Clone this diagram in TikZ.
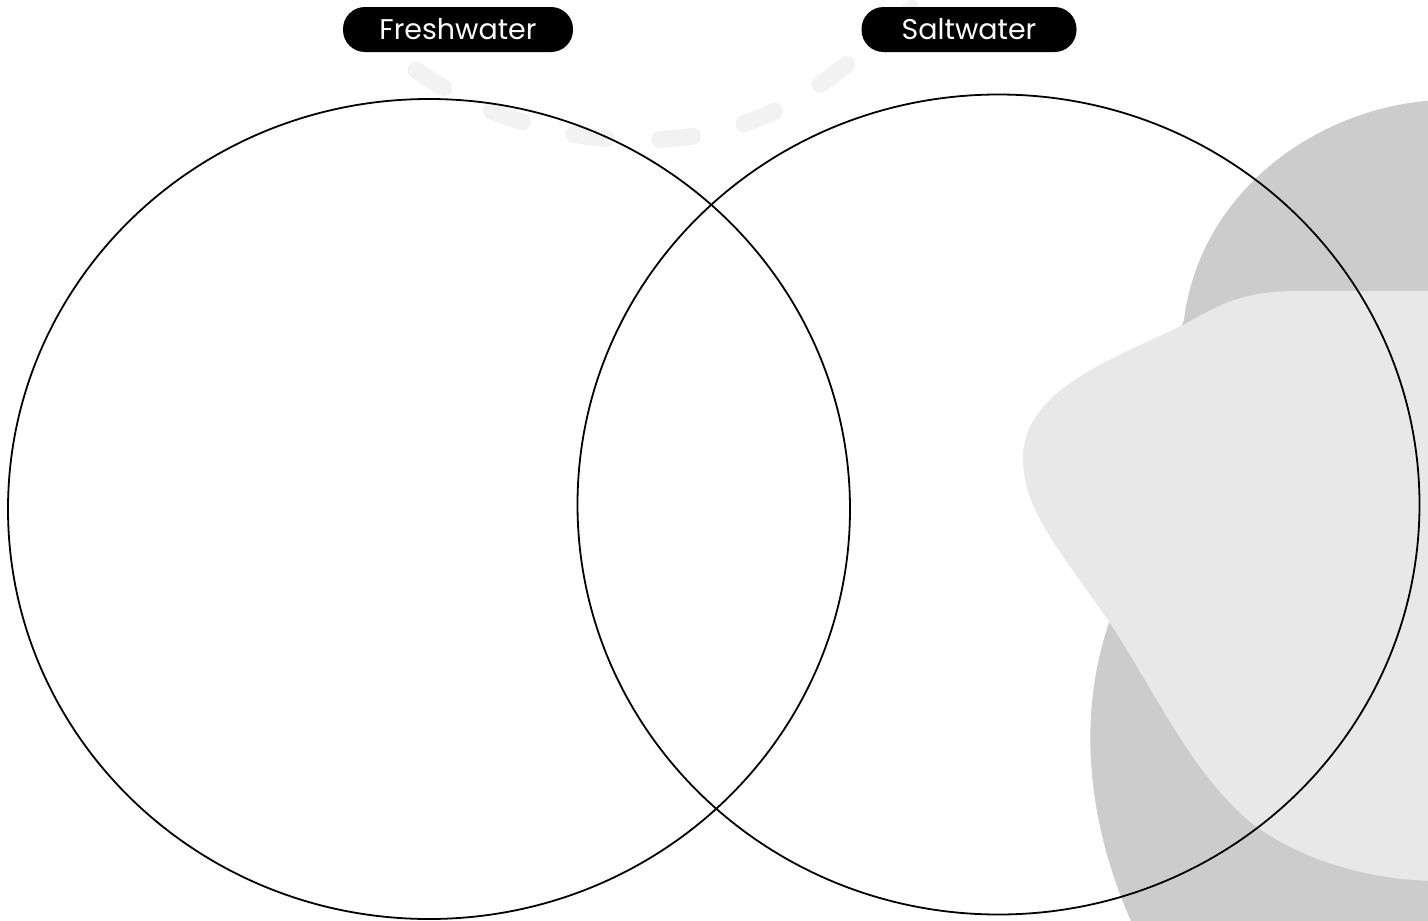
\documentclass[tikz,border=0pt]{standalone}
\usepackage{fontspec}
\usepackage{xcolor}
\usepackage{tikz}
\usetikzlibrary{shapes,positioning,calc}
\newfontfamily\pillfont{Poppins}
\definecolor{blobdark}{HTML}{CCCCCC}
\definecolor{bloblight}{HTML}{E8E8E8}
\definecolor{trailgray}{HTML}{F2F2F2}

\begin{document}
\begin{tikzpicture}[
  x=1pt, y=-1pt,
  ring/.style={ellipse, draw=black, line width=1.8pt, minimum width=842pt, minimum height=820pt, inner sep=0pt},
  pill/.style={rectangle, fill=black, text=white, rounded corners=22pt, minimum height=45pt, inner sep=0pt, font=\pillfont\fontsize{28.5}{32}\selectfont},
  trail/.style={draw=trailgray, line width=17pt, line cap=round, dash pattern=on 33pt off 53pt}
]

% Frame
\useasboundingbox (0,0) rectangle (1428,921);
\clip (0,0) rectangle (1428,921);

% Background blobs
\fill[blobdark] (1440,100) .. controls (1320,105) and (1200,190) .. (1184,320)
  -- (1150,400) -- (1110,620) .. controls (1085,690) and (1075,800) .. (1135,930)
  -- (1440,930) -- cycle;
\fill[bloblight] (1440,291) -- (1300,291) .. controls (1240,291) and (1220,305) .. (1183,325)
  .. controls (1110,360) and (1025,390) .. (1023,456)
  .. controls (1022,510) and (1060,550) .. (1110,623)
  .. controls (1160,700) and (1190,770) .. (1250,822)
  .. controls (1300,860) and (1370,881) .. (1440,881) -- cycle;

% Dashed trail
\coordinate (trailA) at (416,70);
\coordinate (trailB) at (640,140);
\coordinate (trailC) at (846,65);
\coordinate (trailD) at (925,-5);
\draw[trail] (trailA) .. controls (480,115) and (560,140) .. (trailB)
  .. controls (730,140) and (790,110) .. (trailC)
  .. controls (870,46) and (895,25) .. (trailD);

% Circles
\node[ring] (fresh) at (429,509) {};
\node[ring] (salt) at (998.5,504.5) {};

% Labels
\node[pill, minimum width=230pt] (freshlbl) at (458,29.5) {Freshwater};
\node[pill, minimum width=215pt] (saltlbl) at (969,29.5) {Saltwater};

\end{tikzpicture}
\end{document}
